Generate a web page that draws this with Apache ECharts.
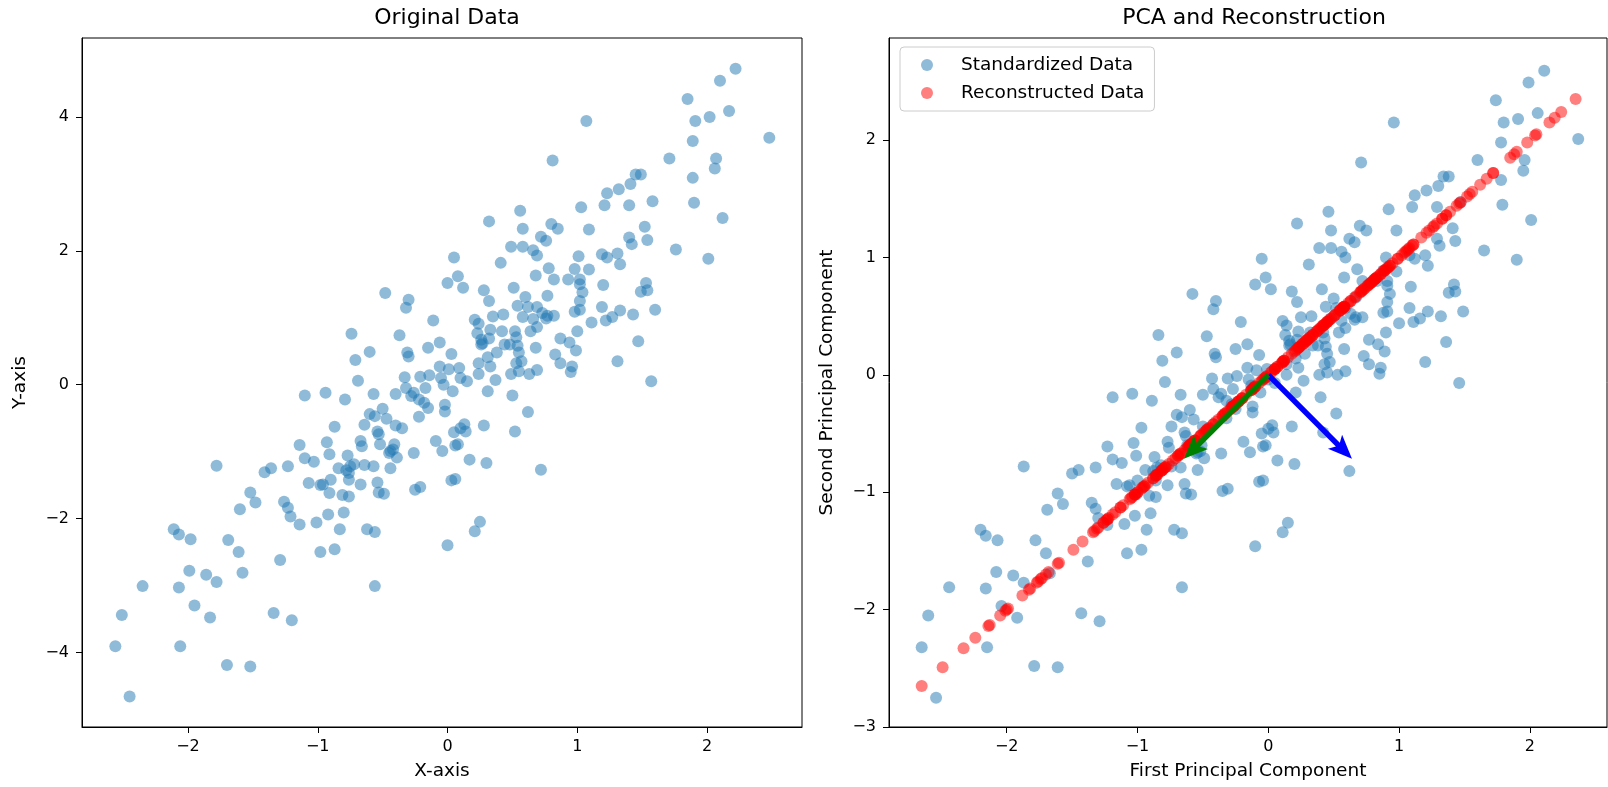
<!DOCTYPE html>
<html>
<head>
<meta charset="utf-8">
<title>PCA and Reconstruction</title>
<script src="https://cdn.jsdelivr.net/npm/echarts@6/dist/echarts.min.js"></script>
<style>
html, body { margin: 0; padding: 0; background: #fff; }
#main { width: 1608px; height: 787px; }
</style>
</head>
<body>
<div id="main"></div>
<script>
// original data
var origData = [
[0.00,1.52],[-0.48,1.37],[-0.30,1.27],[-0.32,1.15],[-0.11,0.96],[-0.74,0.76],[-0.37,0.74],[-0.15,0.55],[-0.06,0.63],[-0.60,0.49],
[-0.31,0.48],[-0.30,0.42],[-0.71,0.37],[-0.69,0.06],[-0.33,0.11],[-0.21,0.12],[-0.14,0.14],[-0.06,0.27],[-0.05,0.10],[-1.10,-0.16],
[-0.94,-0.12],[-0.79,-0.22],[-0.57,-0.14],[-0.40,-0.14],[-0.32,-0.05],[-0.28,-0.17],[-0.26,-0.12],[-0.22,-0.22],[-0.17,-0.05],[-0.18,-0.27],
[-0.15,-0.35],[-0.22,-0.48],[-0.03,0.00],[-0.02,-0.30],[-0.02,-0.40],[-0.60,-0.44],[-0.56,-0.47],[-0.50,-0.36],[-0.47,-0.51],[-0.40,-0.61],
[-0.35,-0.65],[-0.64,-0.60],[-0.87,-0.63],[-0.54,-0.70],[-0.53,-0.74],[-0.67,-0.84],[-0.66,-0.92],[-0.52,-0.89],[-0.41,-0.89],[-0.42,-0.97],
[-0.45,-1.02],[-0.39,-1.09],[-0.26,-1.02],[-0.09,-0.84],[-0.04,-0.99],[-1.14,-0.90],[-0.93,-0.86],[-0.91,-1.04],[-1.10,-1.10],[-1.03,-1.15],
[-0.77,-1.06],[-0.84,-1.25],[-0.76,-1.32],[-0.75,-1.22],[-0.76,-1.42],[-0.72,-1.19],[-0.64,-1.20],[-0.57,-1.22],[-0.44,-1.25],[-1.23,-1.22],
[-1.36,-1.25],[-1.41,-1.31],[-1.78,-1.21],[-1.07,-1.47],[-0.98,-1.50],[-0.96,-1.49],[-0.90,-1.42],[-0.91,-1.62],[-0.81,-1.65],[-0.76,-1.67],
[-0.67,-1.49],[-0.54,-1.46],[-0.53,-1.61],[-0.49,-1.63],[-0.25,-1.57],[-0.21,-1.53],[-1.52,-1.61],[-1.48,-1.76],[-1.60,-1.86],[-1.26,-1.75],
[-1.23,-1.84],[-1.21,-1.97],[-1.14,-2.09],[-1.01,-2.06],[-0.92,-1.94],[-0.80,-1.91],[-0.83,-2.16],[-0.62,-2.16],[-0.56,-2.20],[-2.11,-2.16],
[-2.07,-2.24],[-1.98,-2.31],[-1.69,-2.32],[-0.78,-1.28],[-0.44,-0.99],[-1.61,-2.50],[-1.29,-2.62],[-0.98,-2.50],[-0.87,-2.46],[0.00,-2.40],
[-1.99,-2.78],[-1.86,-2.84],[-1.78,-2.95],[-1.58,-2.81],[-2.35,-3.01],[-2.07,-3.03],[-0.56,-3.01],[-1.95,-3.30],[-1.83,-3.48],[-1.34,-3.41],
[-1.20,-3.52],[-2.51,-3.44],[-2.56,-3.91],[-2.06,-3.91],[-1.70,-4.19],[-1.52,-4.21],[-2.45,-4.66],[2.22,4.72],[2.10,4.54],[1.85,4.27],
[2.17,4.09],[2.02,4.00],[1.91,3.94],[1.07,3.94],[2.48,3.69],[1.89,3.64],[0.81,3.35],[1.71,3.38],[2.07,3.38],[2.06,3.23],
[1.45,3.14],[1.49,3.14],[1.89,3.09],[1.41,3.00],[1.32,2.92],[1.23,2.86],[1.21,2.68],[1.03,2.65],[1.40,2.68],[1.58,2.74],
[1.90,2.72],[0.56,2.60],[0.32,2.44],[2.12,2.49],[0.80,2.40],[0.85,2.33],[0.58,2.33],[1.09,2.32],[1.52,2.36],[0.05,1.90],
[0.41,1.82],[0.49,2.06],[0.58,2.06],[0.66,2.01],[0.69,1.93],[0.72,2.21],[0.76,2.15],[1.01,1.92],[1.09,1.72],[0.98,1.73],
[0.93,1.57],[1.02,1.57],[1.02,1.50],[1.04,1.38],[1.02,1.25],[1.02,1.12],[0.98,1.09],[1.19,1.95],[1.23,1.90],[1.31,1.96],
[1.33,1.80],[1.40,2.20],[1.42,2.10],[1.54,2.16],[1.76,2.02],[2.01,1.88],[1.20,1.49],[1.53,1.52],[1.49,1.39],[1.54,1.41],
[1.60,1.12],[1.19,1.16],[1.33,1.11],[1.27,1.01],[1.22,0.96],[1.43,1.05],[1.11,0.93],[1.47,0.65],[1.31,0.35],[1.57,0.05],
[0.08,1.62],[0.12,1.45],[0.28,1.41],[0.32,1.25],[0.51,1.45],[0.68,1.63],[0.78,1.74],[0.82,1.57],[0.60,1.31],[0.77,1.33],
[0.54,1.18],[0.62,1.16],[0.69,1.16],[0.58,1.01],[0.66,0.98],[0.73,1.07],[0.77,1.03],[0.82,1.03],[0.76,0.99],[0.69,0.86],
[0.64,0.80],[0.35,1.02],[0.43,1.05],[0.21,0.97],[0.24,0.91],[0.23,0.77],[0.33,0.82],[0.42,0.80],[0.52,0.80],[0.53,0.71],
[0.26,0.67],[0.26,0.60],[0.32,0.69],[0.44,0.60],[0.48,0.60],[0.54,0.58],[0.55,0.48],[0.38,0.48],[0.31,0.41],[0.24,0.32],
[0.24,0.16],[0.33,0.27],[0.37,0.07],[0.49,0.16],[0.55,0.20],[0.63,0.16],[0.69,0.22],[0.53,0.32],[0.57,0.35],[0.68,0.55],
[0.87,0.69],[0.94,0.63],[0.99,0.51],[0.83,0.45],[0.87,0.32],[0.96,0.27],[0.95,0.19],[1.00,0.80],[0.03,0.46],[0.09,0.25],
[0.01,0.23],[0.10,0.10],[0.15,0.05],[0.27,0.62],[0.04,-0.10],[0.31,-0.10],[0.50,-0.16],[0.62,-0.41],[0.13,-0.59],[0.10,-0.65],
[0.05,-0.71],[0.14,-0.70],[0.28,-0.61],[0.52,-0.70],[0.08,-0.89],[0.06,-0.91],[0.17,-1.12],[0.30,-1.17],[0.72,-1.27],[0.03,-1.43],
[0.06,-1.41],[0.25,-2.05],[0.21,-2.19]
];

// standardized data
var stdData = [
[-0.10,0.77],[-0.58,0.69],[-0.40,0.63],[-0.42,0.56],[-0.21,0.45],[-0.84,0.34],[-0.47,0.33],[-0.25,0.22],[-0.16,0.26],[-0.70,0.19],
[-0.41,0.18],[-0.40,0.15],[-0.81,0.12],[-0.79,-0.06],[-0.43,-0.03],[-0.31,-0.03],[-0.24,-0.01],[-0.16,0.06],[-0.15,-0.04],[-1.19,-0.19],
[-1.04,-0.16],[-0.89,-0.22],[-0.67,-0.17],[-0.50,-0.17],[-0.42,-0.12],[-0.38,-0.19],[-0.36,-0.16],[-0.32,-0.22],[-0.27,-0.12],[-0.28,-0.25],
[-0.25,-0.29],[-0.32,-0.37],[-0.13,-0.09],[-0.12,-0.27],[-0.12,-0.32],[-0.70,-0.34],[-0.66,-0.36],[-0.60,-0.30],[-0.57,-0.38],[-0.50,-0.44],
[-0.45,-0.46],[-0.74,-0.44],[-0.97,-0.45],[-0.64,-0.49],[-0.63,-0.52],[-0.77,-0.57],[-0.76,-0.62],[-0.62,-0.60],[-0.51,-0.60],[-0.52,-0.65],
[-0.55,-0.67],[-0.49,-0.71],[-0.36,-0.67],[-0.19,-0.57],[-0.14,-0.66],[-1.23,-0.61],[-1.03,-0.58],[-1.01,-0.69],[-1.19,-0.72],[-1.12,-0.75],
[-0.87,-0.70],[-0.94,-0.81],[-0.86,-0.85],[-0.85,-0.79],[-0.86,-0.90],[-0.82,-0.77],[-0.74,-0.78],[-0.67,-0.79],[-0.54,-0.81],[-1.32,-0.79],
[-1.45,-0.81],[-1.50,-0.84],[-1.87,-0.78],[-1.16,-0.93],[-1.08,-0.95],[-1.06,-0.94],[-1.00,-0.90],[-1.01,-1.02],[-0.91,-1.03],[-0.86,-1.04],
[-0.77,-0.94],[-0.64,-0.93],[-0.63,-1.01],[-0.59,-1.02],[-0.35,-0.99],[-0.31,-0.97],[-1.61,-1.01],[-1.57,-1.10],[-1.69,-1.15],[-1.35,-1.09],
[-1.32,-1.14],[-1.30,-1.22],[-1.23,-1.28],[-1.10,-1.27],[-1.02,-1.20],[-0.90,-1.18],[-0.93,-1.32],[-0.72,-1.32],[-0.66,-1.35],[-2.20,-1.32],
[-2.16,-1.37],[-2.07,-1.41],[-1.78,-1.41],[-0.88,-0.82],[-0.54,-0.66],[-1.70,-1.52],[-1.38,-1.59],[-1.08,-1.52],[-0.97,-1.49],[-0.10,-1.46],
[-2.08,-1.68],[-1.95,-1.71],[-1.87,-1.77],[-1.67,-1.69],[-2.44,-1.81],[-2.16,-1.82],[-0.66,-1.81],[-2.04,-1.97],[-1.92,-2.07],[-1.43,-2.03],
[-1.29,-2.10],[-2.60,-2.05],[-2.65,-2.32],[-2.15,-2.32],[-1.79,-2.48],[-1.61,-2.49],[-2.54,-2.75],[2.11,2.59],[1.99,2.49],[1.74,2.34],
[2.06,2.23],[1.91,2.18],[1.80,2.15],[0.96,2.15],[2.37,2.01],[1.78,1.98],[0.71,1.81],[1.60,1.83],[1.96,1.83],[1.95,1.74],
[1.34,1.69],[1.38,1.69],[1.78,1.66],[1.30,1.61],[1.21,1.57],[1.12,1.53],[1.10,1.43],[0.92,1.41],[1.29,1.43],[1.47,1.47],
[1.79,1.45],[0.46,1.39],[0.22,1.29],[2.01,1.32],[0.70,1.27],[0.75,1.23],[0.48,1.23],[0.98,1.23],[1.41,1.25],[-0.05,0.99],
[0.31,0.94],[0.39,1.08],[0.48,1.08],[0.56,1.05],[0.59,1.00],[0.62,1.16],[0.66,1.13],[0.90,1.00],[0.98,0.88],[0.88,0.89],
[0.83,0.80],[0.91,0.80],[0.91,0.76],[0.93,0.69],[0.91,0.62],[0.91,0.54],[0.88,0.53],[1.08,1.02],[1.12,0.99],[1.20,1.02],
[1.22,0.93],[1.29,1.16],[1.31,1.10],[1.43,1.14],[1.65,1.06],[1.90,0.98],[1.09,0.75],[1.42,0.77],[1.38,0.70],[1.43,0.71],
[1.49,0.54],[1.08,0.57],[1.22,0.54],[1.16,0.48],[1.11,0.45],[1.32,0.50],[1.00,0.44],[1.36,0.28],[1.20,0.11],[1.46,-0.07],
[-0.02,0.83],[0.02,0.73],[0.18,0.71],[0.22,0.62],[0.41,0.73],[0.58,0.83],[0.68,0.90],[0.72,0.80],[0.50,0.65],[0.67,0.66],
[0.44,0.58],[0.52,0.57],[0.59,0.57],[0.48,0.48],[0.56,0.46],[0.63,0.52],[0.67,0.49],[0.72,0.49],[0.66,0.47],[0.59,0.40],
[0.54,0.36],[0.25,0.49],[0.33,0.50],[0.11,0.46],[0.14,0.42],[0.13,0.34],[0.23,0.37],[0.32,0.36],[0.42,0.36],[0.43,0.31],
[0.16,0.29],[0.16,0.25],[0.22,0.30],[0.34,0.25],[0.38,0.25],[0.44,0.24],[0.45,0.18],[0.28,0.18],[0.21,0.14],[0.14,0.09],
[0.14,0.00],[0.23,0.06],[0.27,-0.05],[0.39,0.00],[0.45,0.02],[0.53,0.00],[0.59,0.03],[0.43,0.09],[0.47,0.11],[0.58,0.22],
[0.77,0.30],[0.84,0.26],[0.89,0.20],[0.73,0.16],[0.77,0.09],[0.86,0.06],[0.85,0.01],[0.90,0.36],[-0.07,0.17],[-0.01,0.05],
[-0.09,0.04],[0.00,-0.04],[0.05,-0.07],[0.17,0.26],[-0.06,-0.15],[0.21,-0.15],[0.40,-0.19],[0.52,-0.33],[0.03,-0.43],[0.00,-0.46],
[-0.05,-0.50],[0.04,-0.49],[0.18,-0.44],[0.42,-0.49],[-0.02,-0.60],[-0.04,-0.61],[0.07,-0.73],[0.20,-0.76],[0.62,-0.82],[-0.07,-0.91],
[-0.04,-0.90],[0.15,-1.26],[0.11,-1.34]
];

// reconstructed points lie on the diagonal: position t gives the point (t, t)
var reconT = [
0.34,0.05,0.12,0.07,0.12,-0.25,-0.07,-0.02,0.05,-0.26,
-0.12,-0.13,-0.35,-0.42,-0.23,-0.17,-0.13,-0.05,-0.10,-0.69,
-0.60,-0.56,-0.42,-0.34,-0.27,-0.29,-0.26,-0.27,-0.20,-0.27,
-0.27,-0.35,-0.11,-0.20,-0.22,-0.52,-0.51,-0.45,-0.48,-0.47,
-0.46,-0.59,-0.71,-0.57,-0.58,-0.67,-0.69,-0.61,-0.56,-0.59,
-0.61,-0.60,-0.52,-0.38,-0.40,-0.92,-0.81,-0.85,-0.96,-0.94,
-0.79,-0.88,-0.86,-0.82,-0.88,-0.80,-0.76,-0.73,-0.68,-1.06,
-1.13,-1.17,-1.33,-1.05,-1.02,-1.00,-0.95,-1.02,-0.97,-0.95,
-0.86,-0.79,-0.82,-0.81,-0.67,-0.64,-1.31,-1.34,-1.42,-1.22,
-1.23,-1.26,-1.26,-1.19,-1.11,-1.04,-1.13,-1.02,-1.00,-1.76,
-1.77,-1.74,-1.60,-0.85,-0.60,-1.61,-1.49,-1.30,-1.23,-0.78,
-1.88,-1.83,-1.82,-1.68,-2.13,-1.99,-1.24,-2.01,-2.00,-1.73,
-1.70,-2.33,-2.49,-2.24,-2.14,-2.05,-2.65,2.35,2.24,2.04,
2.15,2.05,1.98,1.56,2.19,1.88,1.26,1.72,1.90,1.85,
1.52,1.54,1.72,1.46,1.39,1.33,1.27,1.17,1.36,1.47,
1.62,0.93,0.76,1.67,0.99,0.99,0.86,1.11,1.33,0.47,
0.63,0.74,0.78,0.81,0.80,0.89,0.90,0.95,0.93,0.89,
0.82,0.86,0.84,0.81,0.77,0.73,0.71,1.05,1.06,1.11,
1.08,1.23,1.21,1.29,1.36,1.44,0.92,1.10,1.04,1.07,
1.02,0.83,0.88,0.82,0.78,0.91,0.72,0.82,0.66,0.70,
0.41,0.38,0.45,0.42,0.57,0.71,0.79,0.76,0.58,0.67,
0.51,0.55,0.58,0.48,0.51,0.58,0.58,0.61,0.57,0.50,
0.45,0.37,0.42,0.29,0.28,0.24,0.30,0.34,0.39,0.37,
0.23,0.21,0.26,0.30,0.32,0.34,0.32,0.23,0.18,0.12,
0.07,0.15,0.11,0.20,0.24,0.27,0.31,0.26,0.29,0.40,
0.54,0.55,0.55,0.45,0.43,0.46,0.43,0.63,0.05,0.02,
-0.03,-0.02,-0.01,0.22,-0.11,0.03,0.11,0.10,-0.20,-0.23,
-0.28,-0.23,-0.13,-0.04,-0.31,-0.33,-0.33,-0.28,-0.10,-0.49,
-0.47,-0.56,-0.62
];

// principal component arrows: [x0, y0, x1, y1]
var arrowData = [[0, 0, 0.64, -0.715], [0, 0, -0.645, -0.715]];
var arrowColors = ['#0000ff', '#008000'];

var xTicks = [-2, -1, 0, 1, 2];
var yTicksLeft = [-4, -2, 0, 2, 4];
var yTicksRight = [-3, -2, -1, 0, 1, 2];

var reconData = reconT.map(function (t) { return [t, t]; });

var FONT = 'DejaVu Sans';

function tickText(v) {
    return String(v).replace('-', '\u2212');
}

function makeAxis(gridIndex, ticks, min, max, name, isY) {
    return {
        type: 'value',
        gridIndex: gridIndex,
        min: min,
        max: max,
        name: name,
        nameLocation: 'middle',
        nameGap: isY ? 52 : 35,
        nameRotate: isY ? 90 : 0,
        nameTextStyle: { fontFamily: FONT, fontSize: 18.5, color: '#000' },
        splitLine: { show: false },
        axisLine: { show: true, onZero: false, lineStyle: { color: '#000', width: 1 } },
        axisTick: { show: true, inside: false, length: 6, customValues: ticks, lineStyle: { color: '#000', width: 1 } },
        axisLabel: {
            customValues: ticks,
            margin: isY ? 13 : 12,
            fontFamily: FONT,
            fontSize: 16,
            color: '#000',
            formatter: tickText
        }
    };
}

function renderArrow(params, api) {
    var p0 = api.coord([api.value(0), api.value(1)]);
    var p1 = api.coord([api.value(2), api.value(3)]);
    var dx = p1[0] - p0[0], dy = p1[1] - p0[1];
    var len = Math.sqrt(dx * dx + dy * dy);
    var ux = dx / len, uy = dy / len;
    var nx = -uy, ny = ux;
    var w = 2.8, headLen = 24, headAxis = 20, headW = 10;
    var bx = p1[0] - ux * headAxis, by = p1[1] - uy * headAxis;
    var hx = p1[0] - ux * headLen, hy = p1[1] - uy * headLen;
    var pts = [
        [p0[0] + nx * w, p0[1] + ny * w],
        [bx + nx * w, by + ny * w],
        [hx + nx * headW, hy + ny * headW],
        [p1[0], p1[1]],
        [hx - nx * headW, hy - ny * headW],
        [bx - nx * w, by - ny * w],
        [p0[0] - nx * w, p0[1] - ny * w]
    ];
    return {
        type: 'polygon',
        shape: { points: pts },
        z2: 10,
        style: { fill: arrowColors[params.dataIndex], stroke: null }
    };
}

var myChart = echarts.init(document.getElementById('main'));

var option = {
    animation: false,
    backgroundColor: '#fff',
    textStyle: { fontFamily: FONT },
    title: [
        { text: 'Original Data', left: 442, top: 2, textAlign: 'center',
          textStyle: { fontFamily: FONT, fontSize: 22, fontWeight: 'normal', color: '#000' } },
        { text: 'PCA and Reconstruction', left: 1249, top: 2, textAlign: 'center',
          textStyle: { fontFamily: FONT, fontSize: 22, fontWeight: 'normal', color: '#000' } }
    ],
    legend: {
        data: ['Standardized Data', 'Reconstructed Data'],
        orient: 'vertical',
        left: 900,
        top: 47,
        padding: [8, 10, 8, 21],
        itemWidth: 12,
        itemHeight: 12,
        itemGap: 8,
        icon: 'circle',
        backgroundColor: 'rgba(255,255,255,0.8)',
        borderColor: '#cccccc',
        borderWidth: 1,
        borderRadius: 4,
        formatter: '{g|}{name}',
        textStyle: {
            fontFamily: FONT, fontSize: 18.5, color: '#000', lineHeight: 20,
            rich: { g: { width: 23 } }
        },
        selectedMode: false
    },
    grid: [
        { left: 82, top: 38, width: 720, height: 689, show: true, borderColor: '#000', borderWidth: 1 },
        { left: 889, top: 38, width: 718, height: 689, show: true, borderColor: '#000', borderWidth: 1 }
    ],
    xAxis: [
        makeAxis(0, xTicks, -2.817, 2.732, 'X-axis', false),
        makeAxis(1, xTicks, -2.90, 2.59, 'First Principal Component', false)
    ],
    yAxis: [
        makeAxis(0, yTicksLeft, -5.115, 5.18, 'Y-axis', true),
        makeAxis(1, yTicksRight, -3.00, 2.87, 'Second Principal Component', true)
    ],
    series: [
        {
            name: 'Original Data',
            type: 'scatter',
            xAxisIndex: 0, yAxisIndex: 0,
            symbol: 'circle',
            symbolSize: 12,
            itemStyle: { color: '#1f77b4', opacity: 0.5 },
            emphasis: { disabled: true },
            data: origData
        },
        {
            name: 'Standardized Data',
            type: 'scatter',
            xAxisIndex: 1, yAxisIndex: 1,
            symbol: 'circle',
            symbolSize: 12,
            itemStyle: { color: '#1f77b4', opacity: 0.5 },
            emphasis: { disabled: true },
            data: stdData
        },
        {
            name: 'Reconstructed Data',
            type: 'scatter',
            xAxisIndex: 1, yAxisIndex: 1,
            symbol: 'circle',
            symbolSize: 12,
            itemStyle: { color: '#ff0000', opacity: 0.5 },
            emphasis: { disabled: true },
            data: reconData
        },
        {
            name: 'Components',
            type: 'custom',
            xAxisIndex: 1, yAxisIndex: 1,
            z: 10,
            renderItem: renderArrow,
            silent: true,
            data: arrowData
        }
    ]
};

myChart.setOption(option);
</script>
</body>
</html>
